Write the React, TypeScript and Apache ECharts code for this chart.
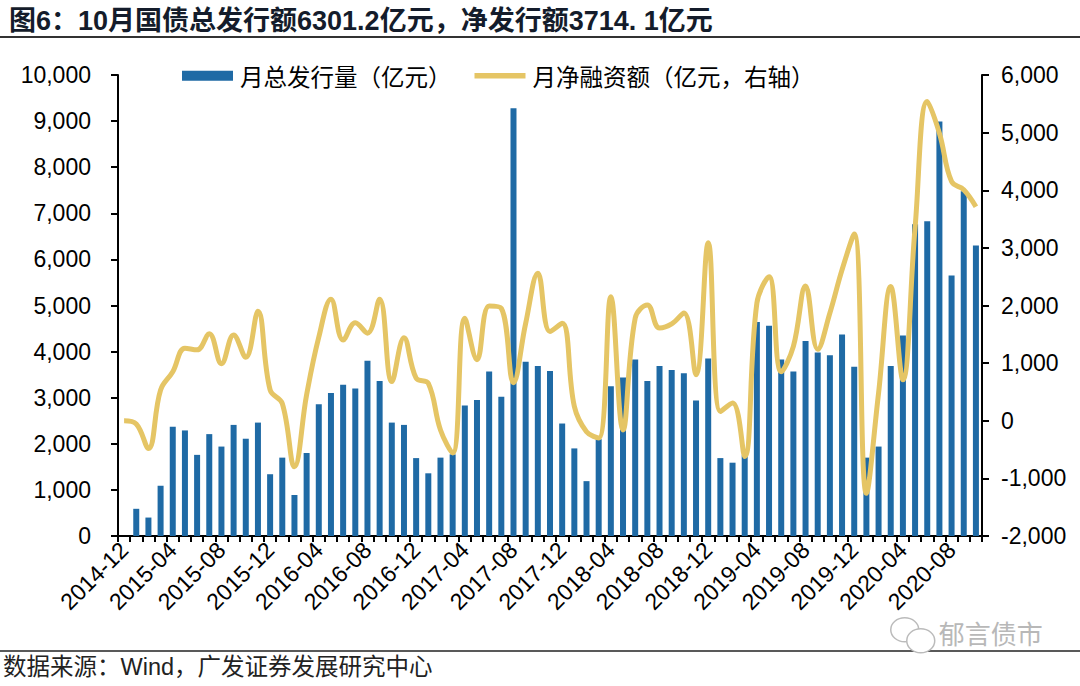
import { useEffect, useRef } from "react";
import * as echarts from "echarts";

const TITLE = "图6：10月国债总发行额6301.2亿元，净发行额3714. 1亿元";
const SOURCE = "数据来源：Wind，广发证券发展研究中心";
const BAR_NAME = "月总发行量（亿元）";
const LINE_NAME = "月净融资额（亿元，右轴）";

const months = [
  "2014-12",
  "2015-01", "2015-02", "2015-03", "2015-04", "2015-05", "2015-06",
  "2015-07", "2015-08", "2015-09", "2015-10", "2015-11", "2015-12",
  "2016-01", "2016-02", "2016-03", "2016-04", "2016-05", "2016-06",
  "2016-07", "2016-08", "2016-09", "2016-10", "2016-11", "2016-12",
  "2017-01", "2017-02", "2017-03", "2017-04", "2017-05", "2017-06",
  "2017-07", "2017-08", "2017-09", "2017-10", "2017-11", "2017-12",
  "2018-01", "2018-02", "2018-03", "2018-04", "2018-05", "2018-06",
  "2018-07", "2018-08", "2018-09", "2018-10", "2018-11", "2018-12",
  "2019-01", "2019-02", "2019-03", "2019-04", "2019-05", "2019-06",
  "2019-07", "2019-08", "2019-09", "2019-10", "2019-11", "2019-12",
  "2020-01", "2020-02", "2020-03", "2020-04", "2020-05", "2020-06",
  "2020-07", "2020-08", "2020-09", "2020-10",
];

// 月总发行量（亿元）, left axis
const grossIssuance = [
  0,
  590, 400, 1090, 2370, 2290, 1760, 2210, 1940, 2410, 2110, 2460, 1340,
  1700, 890, 1800, 2860, 3100, 3280, 3200, 3800, 3360, 2460, 2410, 1690,
  1360, 1700, 1770, 2830, 2950, 3570, 3020, 9280, 3780, 3690, 3580, 2440,
  1900, 1190, 2100, 3250, 3440, 3830, 3360, 3690, 3600, 3530, 2940, 3850,
  1690, 1590, 1750, 4640, 4560, 3830, 3570, 4230, 3980, 3920, 4370, 3670,
  1700, 1940, 3690, 4350, 6760, 6830, 8990, 5650, 7480, 6301.2,
];

// 月净融资额（亿元）, right axis
const netFinancing = [
  0,
  -55, -480, 535, 850, 1260, 1230, 1510, 990, 1490, 1100, 1900, 535,
  300, -800, 450, 1450, 2110, 1400, 1700, 1520, 2110, 680, 1440, 740,
  650, -160, -560, 1780, 1060, 1990, 1950, 660, 1690, 2560, 1550, 1690,
  250, -190, -300, 2150, -160, 1780, 2010, 1610, 1680, 1870, 800, 3090,
  160, 310, -620, 2040, 2500, 850, 1290, 2340, 1240, 1870, 2620, 3240,
  -1260, 480, 2330, 710, 3350, 5540, 4990, 4150, 4010, 3714.1,
];

const BAR_COLOR = "#1f6aa5";
const LINE_COLOR = "#e5c565";
const FONT = "'Liberation Sans', Arial, 'Noto Sans CJK SC', sans-serif";
const CJK_FONT = "'Noto Sans CJK SC', sans-serif";
// thick line legend mark: the empty moves keep the bounding box 10 high
const LINE_ICON = "path://M0,0L0,0M0,10L0,10M0,2.3L51,2.3L51,7.7L0,7.7Z";

const fmt = (v: number) => v.toLocaleString("en-US");

const App = () => {
  const chartRef = useRef<HTMLDivElement>(null);

  useEffect(() => {
    document.body.style.margin = "0";
    if (!chartRef.current) return;
    const chart = echarts.init(chartRef.current, undefined, { renderer: "svg" });

    const axisLine = { show: true, lineStyle: { color: "#000", width: 2 } };
    const axisLabel = { color: "#000", fontSize: 23, fontFamily: FONT };

    chart.setOption({
      animation: false,
      backgroundColor: "#fff",
      title: {
        text: TITLE,
        left: 4,
        top: 2,
        textStyle: {
          fontSize: 27,
          fontWeight: "bold",
          color: "#141c2b",
          fontFamily: FONT,
        },
      },
      legend: {
        top: 59,
        left: 177,
        itemWidth: 51,
        itemHeight: 10,
        itemGap: 23,
        textStyle: { fontSize: 23.5, color: "#000", fontFamily: CJK_FONT, padding: [0, 0, 0, 2] },
        data: [
          { name: BAR_NAME, icon: "rect" },
          { name: LINE_NAME, icon: LINE_ICON },
        ],
      },
      grid: { left: 118, right: 98, top: 75, bottom: 150, containLabel: false },
      xAxis: {
        type: "category",
        data: months,
        boundaryGap: true,
        axisLine: { ...axisLine, onZero: false },
        axisTick: { show: true, interval: 0, length: 6, lineStyle: { color: "#000", width: 2 } },
        axisLabel: { ...axisLabel, interval: 3, rotate: 45, margin: 10 },
        splitLine: { show: false },
      },
      yAxis: [
        {
          type: "value",
          min: 0,
          max: 10000,
          interval: 1000,
          axisLine,
          axisTick: { show: true, length: 7, lineStyle: { color: "#000", width: 2 } },
          axisLabel: { ...axisLabel, margin: 27, formatter: fmt },
          splitLine: { show: false },
        },
        {
          type: "value",
          position: "right",
          min: -2000,
          max: 6000,
          interval: 1000,
          axisLine,
          axisTick: { show: true, length: 7, lineStyle: { color: "#000", width: 2 } },
          axisLabel: { ...axisLabel, margin: 19, formatter: fmt },
          splitLine: { show: false },
        },
      ],
      series: [
        {
          name: BAR_NAME,
          type: "bar",
          data: grossIssuance,
          barWidth: 6,
          itemStyle: { color: BAR_COLOR },
        },
        {
          name: LINE_NAME,
          type: "line",
          yAxisIndex: 1,
          data: netFinancing,
          smooth: 0.4,
          symbol: "none",
          lineStyle: { color: LINE_COLOR, width: 5 },
          itemStyle: { color: LINE_COLOR },
          z: 3,
        },
      ],
      graphic: [
        {
          type: "line",
          shape: { x1: 0, y1: 37, x2: 1080, y2: 37 },
          style: { stroke: "#333", lineWidth: 2 },
        },
        {
          type: "line",
          shape: { x1: 0, y1: 651, x2: 1080, y2: 651 },
          style: { stroke: "#222", lineWidth: 1.5 },
        },
        {
          type: "text",
          left: 3,
          top: 655,
          style: { text: SOURCE, fontSize: 23.5, fill: "#222", fontFamily: FONT },
        },
        {
          type: "group",
          left: 890,
          top: 617,
          children: [
            {
              type: "ellipse",
              shape: { cx: 16, cy: 13, rx: 14, ry: 12 },
              style: { fill: "#fff", stroke: "#bbb", lineWidth: 1.5 },
            },
            {
              type: "ellipse",
              shape: { cx: 32, cy: 24, rx: 14, ry: 12 },
              style: { fill: "#fff", stroke: "#bbb", lineWidth: 1.5 },
            },
            {
              type: "text",
              x: 50,
              y: 3,
              style: { text: "郁言债市", fontSize: 26, fill: "#b8b8b8", fontFamily: CJK_FONT },
            },
          ],
        },
      ],
    });

    return () => chart.dispose();
  }, []);

  return <div ref={chartRef} style={{ width: 1080, height: 686 }} />;
};

export default App;
